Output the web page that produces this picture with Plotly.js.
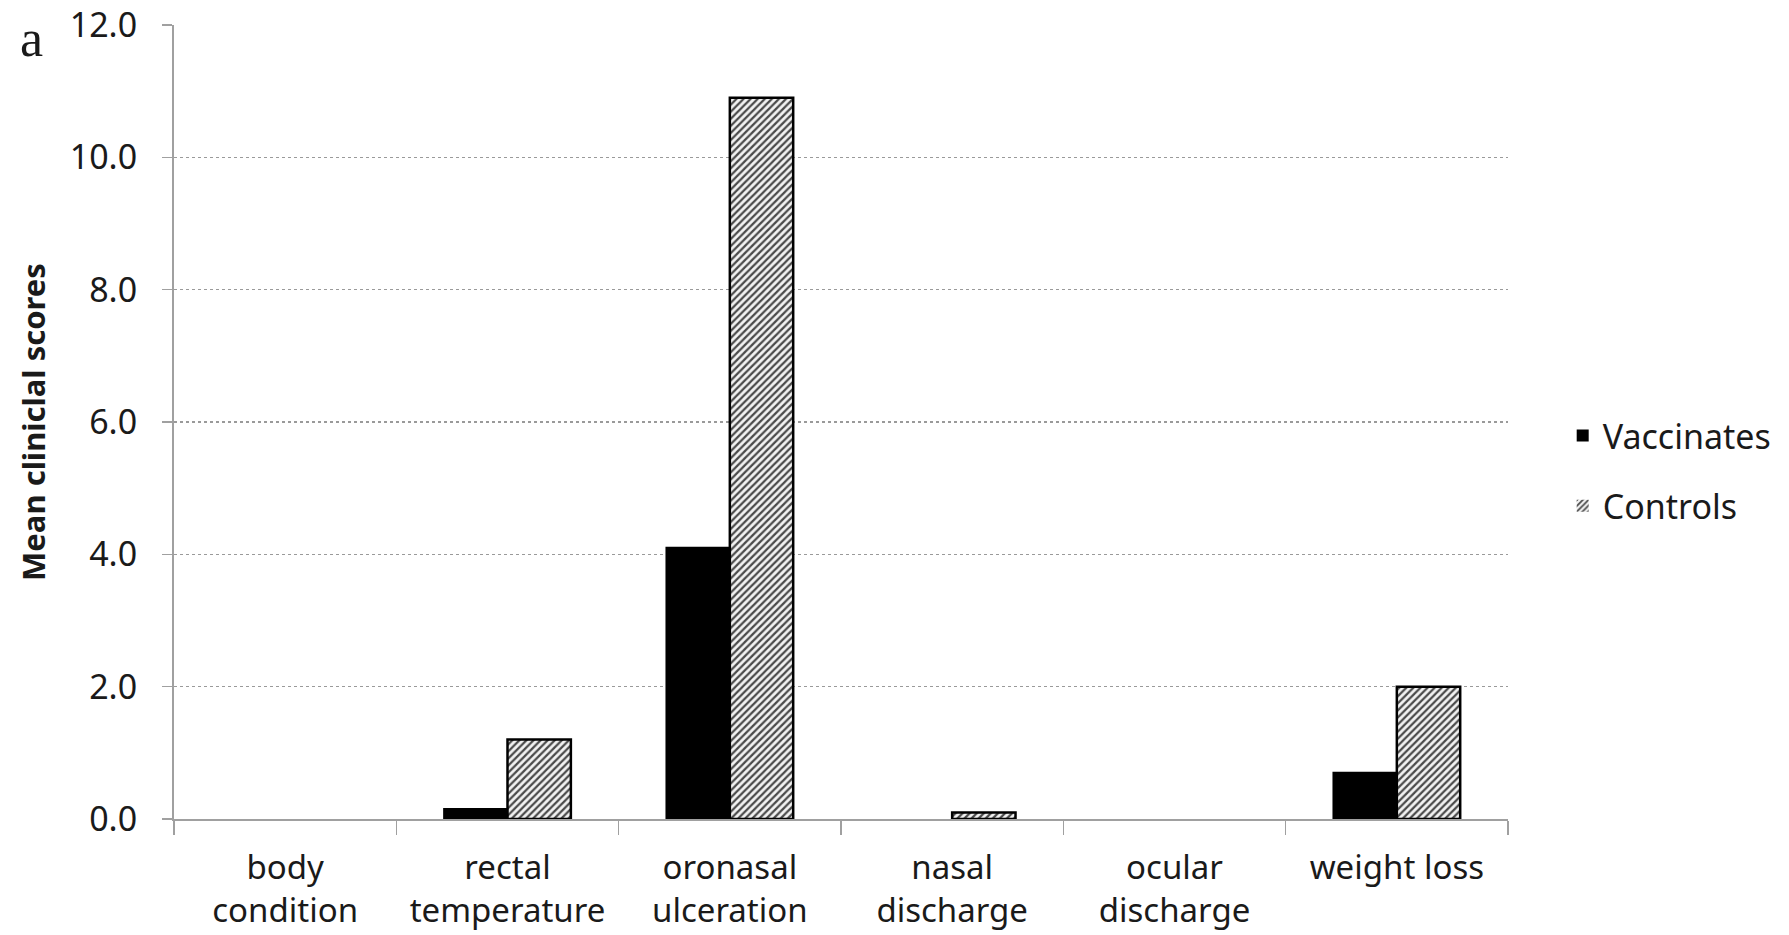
<!DOCTYPE html>
<html>
<head>
<meta charset="utf-8">
<script src="https://cdn.plot.ly/plotly-3.0.1.min.js"></script>
<style>
  html, body { margin: 0; padding: 0; background: #fff; }
  #chart { width: 1789px; height: 935px; }
</style>
</head>
<body>
<div id="chart"></div>
<script>
const categories = ['body<br>condition', 'rectal<br>temperature', 'oronasal<br>ulceration', 'nasal<br>discharge', 'ocular<br>discharge', 'weight loss'];
const vaccinates = [0, 0.15, 4.1, 0, 0, 0.7];
const controls = [0, 1.2, 10.9, 0.1, 0, 2.0];
const yTickVals = [0, 2, 4, 6, 8, 10, 12];
const yTickText = ['0.0', '2.0', '4.0', '6.0', '8.0', '10.0', '12.0'];

const FONT = '"Noto Sans", "Open Sans", sans-serif';

// zero-valued bars get no outline (nothing is drawn in the original)
const outline = (vals, w) => vals.map(v => (v > 0 ? w : 0));

const traces = [
  {
    type: 'bar',
    name: 'Vaccinates',
    x: categories,
    y: vaccinates,
    legendgroup: 'v',
    marker: { color: '#000000', line: { color: '#000000', width: outline(vaccinates, 2) } },
    hoverinfo: 'x+y'
  },
  {
    type: 'bar',
    name: 'Controls',
    x: categories,
    y: controls,
    legendgroup: 'c',
    marker: {
      color: '#ffffff',
      line: { color: '#000000', width: outline(controls, 2.5) },
      pattern: { shape: '/', fgcolor: '#4a4a4a', bgcolor: '#f2f2f2', size: 5, solidity: 0.45 }
    },
    hoverinfo: 'x+y'
  }
];

const layout = {
  width: 1789,
  height: 935,
  margin: { l: 174, r: 281, t: 25, b: 116 },
  paper_bgcolor: '#ffffff',
  plot_bgcolor: '#ffffff',
  font: { family: FONT, color: '#1a1a1a', size: 34 },
  barmode: 'group',
  bargap: 0.43,
  bargroupgap: 0,
  showlegend: true,
  legend: {
    x: 1.041, xanchor: 'left',
    y: 0.519, yanchor: 'top',
    font: { family: FONT, size: 34, color: '#1a1a1a' },
    traceorder: 'grouped',
    tracegroupgap: 23,
    bgcolor: 'rgba(0,0,0,0)'
  },
  xaxis: {
    type: 'category',
    showline: true,
    linecolor: '#a0a0a0',
    linewidth: 2,
    ticks: 'outside',
    tickson: 'boundaries',
    ticklen: 14,
    tickwidth: 1.5,
    tickcolor: '#a0a0a0',
    showgrid: false,
    zeroline: false,
    ticklabelstandoff: 18,
    tickfont: { family: FONT, size: 33, color: '#1a1a1a' },
    fixedrange: true
  },
  yaxis: {
    range: [0, 12],
    tickvals: yTickVals,
    ticktext: yTickText,
    showline: true,
    linecolor: '#a0a0a0',
    linewidth: 2,
    ticks: 'outside',
    ticklen: 10,
    tickwidth: 1.5,
    tickcolor: '#a0a0a0',
    showgrid: true,
    gridcolor: '#9a9a9a',
    gridwidth: 1.5,
    griddash: 'dot',
    zeroline: false,
    ticklabelstandoff: 18,
    tickfont: { family: FONT, size: 34, color: '#1a1a1a' },
    title: {
      text: 'Mean cliniclal scores',
      font: { family: FONT, size: 31, color: '#1a1a1a', weight: 'bold' },
      standoff: 15
    },
    fixedrange: true
  },
  annotations: [
    {
      text: 'a',
      xref: 'paper', yref: 'paper',
      x: -0.107, y: 0.983,
      xanchor: 'center', yanchor: 'middle',
      showarrow: false,
      font: { family: '"Liberation Serif", "DejaVu Serif", serif', size: 52, color: '#1a1a1a' }
    }
  ]
};

Plotly.newPlot('chart', traces, layout, { displayModeBar: false, staticPlot: true });
</script>
</body>
</html>
